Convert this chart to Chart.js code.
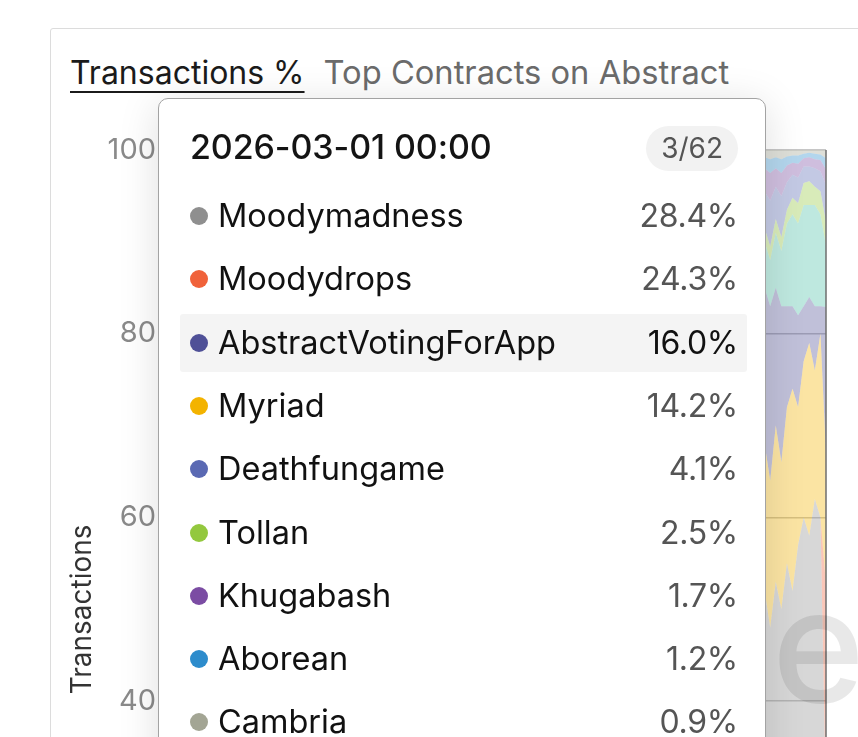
<!DOCTYPE html>
<html>
<head>
<meta charset="utf-8">
<script src="https://cdn.jsdelivr.net/npm/chart.js@4.4.1/dist/chart.umd.min.js"></script>
<style>
  html, body { margin: 0; padding: 0; width: 858px; height: 737px; overflow: hidden; background: #fff; font-family: Inter, "Noto Sans", sans-serif; }
  #card { position: absolute; left: 50px; top: 28px; width: 900px; height: 900px; border: 1.5px solid #dcdcdc; border-radius: 3px; }
  #title { position: absolute; left: 70px; top: 52px; font-size: 32px; white-space: nowrap; letter-spacing: 0; }
  #title .tab { color: #1b1b1b; text-decoration: underline; text-decoration-thickness: 2px; text-underline-offset: 7px; }
  #title .query { color: #6b6b6b; margin-left: 19px; font-size: 32.7px; }
  #wrap { position: absolute; left: 66px; top: 110px; width: 792px; height: 982px; }
  #watermark { position: absolute; left: 474px; top: 549px; font-size: 158px; font-weight: 500; color: rgba(0,0,0,0.09); letter-spacing: -2px; pointer-events: none; }
  #tip { position: absolute; left: 158px; top: 98px; width: 606px; height: 720px; background: #fff; border: 1.5px solid #a3a3a3; border-radius: 10px; box-shadow: 0 6px 40px rgba(0,0,0,0.13); }
  #tip .head { position: absolute; left: 31px; top: 27px; font-size: 34px; font-weight: 500; color: #141414; letter-spacing: -0.1px; }
  #tip .badge { position: absolute; right: 27px; top: 27px; height: 45px; padding: 0 15px; line-height: 45px; border-radius: 23px; background: #f2f2f2; color: #555; font-size: 28px; }
  #tip .row { position: absolute; left: 21px; right: 18px; height: 58px; border-radius: 3px; }
  #tip .row.on { background: #f4f4f4; }
  #tip .dot { position: absolute; left: 10px; top: 20px; width: 18px; height: 18px; border-radius: 50%; }
  #tip .name { position: absolute; left: 38px; top: 0; line-height: 58px; font-size: 32.5px; color: #111; letter-spacing: 0; }
  #tip .val { position: absolute; right: 9px; top: 0; line-height: 58px; font-size: 32px; color: #555; letter-spacing: -0.3px; }
  #tip .row.on .val { color: #111; }
</style>
</head>
<body>
<div id="card"></div>
<div id="title"><span class="tab">Transactions %</span><span class="query">Top Contracts on Abstract</span></div>
<div id="wrap"><canvas id="myChart"></canvas></div>
<div id="watermark">Dune</div>
<div id="tip"></div>
<script>
// TRANSACTIONS % - TOP CONTRACTS ON ABSTRACT (daily)

const startDay = '2025-11-02';
const dayCount = 120;

const contracts = [
    'Moodymadness',
    'Moodydrops',
    'Myriad',
    'AbstractVotingForApp',
    'Others',
    'Tollan',
    'Deathfungame',
    'Khugabash',
    'Aborean',
    'Cambria'
];

const colors = [
    '#8f8f8f',
    '#f0623a',
    '#f3b300',
    '#4f5097',
    '#4cc0a6',
    '#93c83e',
    '#5a69b3',
    '#7b4ca3',
    '#2d8ccc',
    '#a3a594'
];

const moodymadness = [
    38,41,36,40,43,39,42,37,44,40,
    42,45,39,43,41,46,40,44,47,42,
    45,41,47,43,48,44,42,49,45,43,
    47,50,44,48,46,51,45,49,47,52,
    48,46,51,49,53,47,50,54,48,52,
    49,53,47,51,55,50,48,54,52,49,
    53,51,56,50,54,52,57,51,55,53,
    50,56,52,58,54,51,57,53,55,59,
    54,52,58,55,53,59,56,54,57,60,
    55,53,58,56,61,54,57,59,55,58,
    56,60,54,58,53,57,55,51,
    52,48,53,50,55,52,57,60,58,62,60,
    28.4
];

const moodydrops = [
    0,0,0,0,0,0,0,0,0,0,
    0,0,0,0,0,0,0,0,0,0,
    0,0,0,0,0,0,0,0,0,0,
    0,0,0,0,0,0,0,0,0,0,
    0,0,0,0,0,0,0,0,0,0,
    0,0,0,0,0,0,0,0,0,0,
    0,0,0,0,0,0,0,0,0,0,
    0,0,0,0,0,0,0,0,0,0,
    0,0,0,0,0,0,0,0,0,0,
    0,0,0,0,0,0,0,0,0,0,
    0,0,0,0,0,0,0,0,
    0,0,0,0,0,0,0,0,0,0,0,
    24.3
];

const myriad = [
    26,24,28,25,23,27,24,29,22,26,
    25,22,27,24,26,21,27,23,20,25,
    22,26,20,24,19,23,25,18,22,24,
    20,17,23,19,21,16,22,18,20,15,
    19,21,16,18,14,20,17,13,19,15,
    18,14,20,16,13,17,19,14,15,18,
    15,17,13,18,14,16,12,17,14,15,
    18,13,16,11,15,17,12,16,14,11,
    15,17,12,14,16,11,14,16,13,10,
    14,16,12,14,10,16,13,12,15,13,
    15,12,17,14,18,15,16,19,
    16,16,17,16,17,22,15,17,21,14,20,
    14.2
];

const abstractVoting = [
    9,10,8,11,9,10,12,9,11,10,
    11,9,12,10,11,9,12,10,11,12,
    10,12,11,13,10,12,11,12,13,11,
    12,11,13,12,11,14,12,13,11,12,
    13,12,11,13,12,14,12,13,11,14,
    12,14,13,12,13,14,12,13,14,12,
    13,14,12,13,15,13,14,12,14,13,
    14,13,15,13,14,15,13,14,15,13,
    14,15,13,14,15,13,14,15,14,16,
    15,14,16,14,15,14,16,15,14,16,
    15,16,14,15,17,15,16,18,
    17,19,15,17,11,9,10,6,5,7,3,
    16.0
];

const others = [
    12,11,13,12,11,12,10,13,11,12,
    10,12,11,12,10,13,11,12,11,10,
    12,11,10,12,11,10,12,11,10,12,
    11,10,12,11,10,11,12,10,11,10,
    11,10,12,10,11,9,11,10,12,10,
    11,10,9,11,10,9,11,10,9,11,
    10,9,11,10,9,10,9,11,9,10,
    9,10,9,10,9,8,10,9,8,9,
    9,8,9,10,8,9,8,9,8,9,
    8,9,8,9,8,9,8,7,9,8,
    8,7,8,7,6,7,6,6,
    5,5,6,6,9,10,10,11,10,11,10,
    6.7
];

const tollan = [
    3,4,3,3,4,3,3,4,3,3,
    3,3,4,3,3,3,4,3,3,3,
    3,3,3,3,2,3,3,2,3,3,
    3,2,3,3,2,3,2,3,3,2,
    2,3,2,2,3,2,2,3,2,2,
    2,2,3,2,2,2,2,3,2,2,
    2,2,2,3,2,2,2,2,2,3,
    2,2,2,2,2,3,2,2,2,2,
    2,2,2,2,3,2,2,2,2,2,
    2,2,2,2,2,2,2,3,2,2,
    2,2,2,2,2,2,2,2,
    1.5,1.5,1.5,1.5,1.5,1.8,2.2,2.4,2.6,2,2.5,
    2.5
];

const deathfungame = [
    6,5,7,5,6,5,6,5,6,5,
    5,6,5,5,6,5,4,5,5,6,
    5,4,5,4,5,5,4,5,4,4,
    4,5,4,4,5,4,4,4,5,4,
    4,4,5,4,4,4,4,4,4,4,
    4,4,4,4,4,4,4,3,4,4,
    4,4,3,4,3,4,3,4,3,4,
    3,3,3,3,3,3,3,3,3,3,
    3,3,3,3,3,3,3,3,3,3,
    3,3,3,3,3,3,3,3,3,3,
    3,3,3,3,3,3,3,4,
    4,5,3.5,4.5,3,2.5,2.8,1.8,1.6,2,2.2,
    4.1
];

const khugabash = [
    3,2,3,2,3,2,3,2,2,3,
    2,3,2,3,2,3,2,3,2,2,
    3,2,3,2,3,2,3,2,3,2,
    2,3,2,2,3,2,2,3,2,2,
    2,2,3,2,2,2,2,2,3,2,
    2,2,2,2,2,2,2,2,2,2,
    2,2,2,2,2,2,2,2,2,2,
    2,2,2,2,2,2,2,2,2,2,
    2,2,2,2,2,2,2,2,2,2,
    2,2,2,2,2,2,2,2,2,2,
    2,2,2,2,2,2,2,2,
    2.5,3,2,2.5,1.8,1.3,1.5,0.9,1,1,1.2,
    1.7
];

const aborean = [
    2,2,2,2,1,2,2,1,2,2,
    2,1,2,1,2,1,2,1,2,1,
    2,1,1,2,1,2,1,1,2,1,
    1,2,1,1,2,1,1,2,1,1,
    2,1,1,1,2,1,1,1,2,1,
    1,1,2,1,1,1,1,2,1,1,
    1,1,1,1,1,2,1,1,1,1,
    1,1,1,1,1,1,1,1,1,1,
    1,1,1,1,1,1,1,1,1,1,
    1,1,1,1,1,1,1,1,1,1,
    1,1,1,1,1,1,1,1,
    1.2,1.5,1.2,1.5,1,0.8,0.9,0.5,0.5,0.6,0.6,
    1.2
];

const cambria = [
    1,1,1,1,1,1,1,1,1,1,
    1,1,1,1,1,1,1,1,1,1,
    1,1,1,1,1,1,1,1,1,1,
    1,1,1,1,1,1,1,1,1,1,
    1,1,1,1,1,1,1,1,1,1,
    1,1,1,1,1,1,1,1,1,1,
    1,1,1,1,1,1,1,1,1,1,
    1,1,1,1,1,1,1,1,1,1,
    1,1,1,1,1,1,1,1,1,1,
    1,1,1,1,1,1,1,1,1,1,
    1,1,1,1,1,1,1,1,
    0.8,1,0.8,1,0.7,0.6,0.6,0.4,0.3,0.4,0.5,
    0.9
];

const yTicks = [0, 20, 40, 60, 80, 100];
const hoveredContract = 'AbstractVotingForApp';
const contractTotal = 62;

// dates for the x axis
const labels = [];
for (let i = 0; i < dayCount; i++) {
    const d = new Date(startDay + 'T00:00:00Z');
    d.setUTCDate(d.getUTCDate() + i);
    labels.push(d.toISOString().slice(0, 10));
}

// share of daily transactions, in %
const series = [moodymadness, moodydrops, myriad, abstractVoting, others, tollan, deathfungame, khugabash, aborean, cambria];
const dayTotals = labels.map((l, i) => series.reduce((s, arr) => s + arr[i], 0));
const shares = series.map(arr => arr.map((v, i) => v / dayTotals[i] * 100));

function fade(hex, a) {
    const n = parseInt(hex.slice(1), 16);
    return 'rgba(' + (n >> 16) + ',' + ((n >> 8) & 255) + ',' + (n & 255) + ',' + a + ')';
}

const data = {
    labels: labels,
    datasets: contracts.map((name, k) => ({
        label: name,
        data: shares[k],
        backgroundColor: fade(colors[k], 0.36),
        borderWidth: 0,
        pointRadius: 0,
        fill: k === 0 ? 'origin' : '-1',
        tension: 0
    }))
};

// vertical hover line on the last day
const hoverLine = {
    id: 'hoverLine',
    afterDatasetsDraw(chart) {
        const meta = chart.getDatasetMeta(0);
        const pt = meta.data[meta.data.length - 1];
        const ctx = chart.ctx;
        ctx.save();
        ctx.strokeStyle = 'rgba(110,110,110,0.75)';
        ctx.lineWidth = 2;
        ctx.beginPath();
        ctx.moveTo(pt.x, chart.chartArea.top);
        ctx.lineTo(pt.x, chart.chartArea.bottom);
        ctx.stroke();
        ctx.restore();
    }
};

const config = {
    type: 'line',
    data: data,
    options: {
        responsive: false,
        animation: false,
        events: [],
        layout: { padding: { top: 40, right: 32, bottom: 20, left: 0 } },
        plugins: {
            legend: { display: false },
            tooltip: { enabled: false }
        },
        scales: {
            x: { display: false },
            y: {
                stacked: true,
                min: 0,
                max: 100,
                afterBuildTicks: axis => { axis.ticks = yTicks.map(v => ({ value: v })); },
                border: { display: false },
                grid: { color: '#c6c6c6', lineWidth: 1.5, drawTicks: false },
                ticks: { color: '#8a8a8a', padding: 6, font: { family: 'Inter', size: 29 } },
                title: { display: true, text: 'Transactions', color: '#333', padding: { top: 0, bottom: 2 }, font: { family: 'Inter', size: 28 } }
            }
        }
    },
    plugins: [hoverLine]
};

const canvas = document.getElementById('myChart');
canvas.width = 792;
canvas.height = 982;
const myChart = new Chart(canvas, config);

// tooltip box for the hovered day
const last = labels.length - 1;
const rows = contracts
    .map((name, k) => ({ name: name, color: colors[k], value: shares[k][last] }))
    .filter(r => r.name !== 'Others')
    .sort((a, b) => b.value - a.value);

const tip = document.getElementById('tip');
let html = '<div class="head">' + labels[last] + ' 00:00</div>';
const rank = rows.findIndex(r => r.name === hoveredContract) + 1;
html += '<div class="badge">' + rank + '/' + contractTotal + '</div>';
rows.forEach((r, i) => {
    html += '<div class="row' + (r.name === hoveredContract ? ' on' : '') + '" style="top:' + (88 + i * 63.3) + 'px">' +
        '<span class="dot" style="background:' + r.color + '"></span>' +
        '<span class="name">' + r.name + '</span>' +
        '<span class="val">' + r.value.toFixed(1) + '%</span></div>';
});
tip.innerHTML = html;
</script>
</body>
</html>
